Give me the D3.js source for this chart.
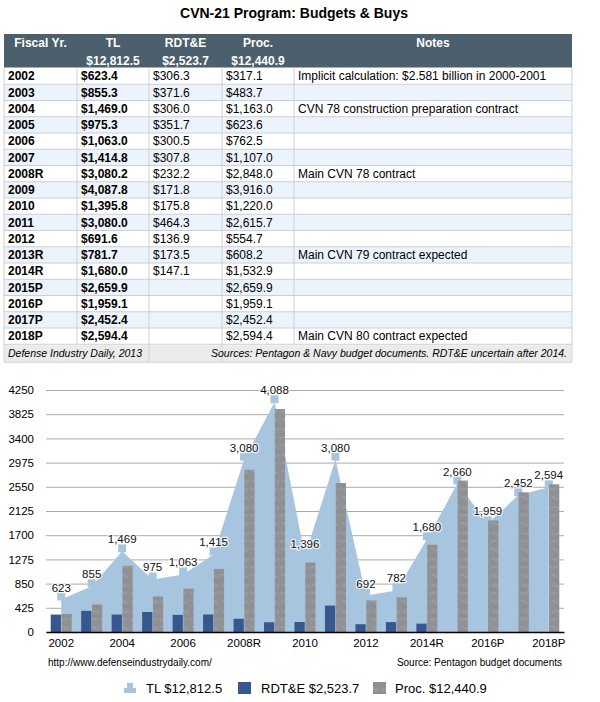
<!DOCTYPE html>
<html><head><meta charset="utf-8">
<script src="https://cdn.jsdelivr.net/npm/d3@7"></script>
<style>
body{margin:0;background:#fff;}
svg{display:block;font-family:"Liberation Sans",Arial,Helvetica,sans-serif;}
</style>
</head><body>
<svg id="c" width="600" height="702"></svg>
<script>
// ---------- data ----------
const years = ["2002","2003","2004","2005","2006","2007","2008R","2009","2010","2011","2012","2013R","2014R","2015P","2016P","2017P","2018P"];
const tl    = [623.4,855.3,1469.0,975.3,1063.0,1414.8,3080.2,4087.8,1395.8,3080.0,691.6,781.7,1680.0,2659.9,1959.1,2452.4,2594.4];
const rdte  = [306.3,371.6,306.0,351.7,300.5,307.8,232.2,171.8,175.8,464.3,136.9,173.5,147.1,null,null,null,null];
const proc  = [317.1,483.7,1163.0,623.6,762.5,1107.0,2848.0,3916.0,1220.0,2615.7,554.7,608.2,1532.9,2659.9,1959.1,2452.4,2594.4];
const notes = ["Implicit calculation: $2.581 billion in 2000-2001","","CVN 78 construction preparation contract","","","","Main CVN 78 contract","","","","","Main CVN 79 contract expected","","","","","Main CVN 80 contract expected"];
const headers = ["Fiscal Yr.","TL","RDT&E","Proc.","Notes"];
const totals  = ["","$12,812.5","$2,523.7","$12,440.9",""];
const yTicks  = [0,425,850,1275,1700,2125,2550,2975,3400,3825,4250];
const xTickLabels = ["2002","2004","2006","2008R","2010","2012","2014R","2016P","2018P"];
const seriesNames = ["TL $12,812.5","RDT&E $2,523.7","Proc. $12,440.9"];

// ---------- styles ----------
const C = {header:"#4b5f6d", alt:"#edf3fb", border:"#c9d0da", foot:"#ebebeb",
           area:"#a8c5df", rdte:"#37588f", proc:"#909195", grid:"#acacac"};

const svg = d3.select("#c");

// texture for Proc. bars
const defs = svg.append("defs");
const pat = defs.append("pattern").attr("id","stone").attr("patternUnits","userSpaceOnUse")
  .attr("width",10).attr("height",26);
pat.append("rect").attr("width",10).attr("height",26).attr("fill",C.proc);
pat.append("path").attr("d","M1,3 C3,1 5,6 8,4 M2,14 C4,11 6,16 9,13 M0,21 C3,23 5,19 7,22")
  .attr("stroke","#a2a3a7").attr("stroke-width",1.8).attr("fill","none").attr("opacity",0.55);
pat.append("path").attr("d","M3,8 C5,9 7,8 9,10 M1,18 C2,17 4,17 5,18")
  .attr("stroke","#838488").attr("stroke-width",1.2).attr("fill","none").attr("opacity",0.5);

// ---------- title ----------
svg.append("text").attr("x",294).attr("y",18).attr("text-anchor","middle")
  .attr("font-weight","bold").attr("font-size",14).text("CVN-21 Program: Budgets & Buys");

// ---------- table ----------
const colX = [4,77,149,222,294,572];
const headTop = 34, headBot = 68, rowH = 16.25;
const bodyBot = headBot + rowH*years.length;
const footBot = bodyBot + 18;
const T = svg.append("g");

T.append("rect").attr("x",colX[0]).attr("y",headTop).attr("width",colX[5]-colX[0]).attr("height",headBot-headTop).attr("fill",C.header);
headers.forEach((h,i)=>{
  const hx = (colX[i]+colX[i+1])/2;
  T.append("text").attr("x",hx).attr("y",headTop+12.5).attr("text-anchor","middle")
    .attr("fill","#fff").attr("font-weight","bold").attr("font-size",12).text(h);
  if (totals[i]) T.append("text").attr("x",hx).attr("y",headTop+30.5).attr("text-anchor","middle")
    .attr("fill","#fff").attr("font-weight","bold").attr("font-size",12).text(totals[i]);
});

const fmt = d3.format("$,.1f");
years.forEach((yr,r)=>{
  const rowTop = headBot + r*rowH;
  T.append("rect").attr("x",colX[0]).attr("y",rowTop).attr("width",colX[5]-colX[0]).attr("height",rowH)
    .attr("fill", r%2 ? C.alt : "#fff");
  const cells = [yr, fmt(tl[r]), rdte[r]==null?"":fmt(rdte[r]), fmt(proc[r]), notes[r]];
  cells.forEach((v,i)=>{
    T.append("text").attr("x",colX[i]+4).attr("y",rowTop+12.3).attr("font-size",12)
      .attr("font-weight", i<2 ? "bold":"normal").attr("fill","#000").text(v);
  });
});
for (let r=0; r<=years.length; r++){
  const yy = headBot + r*rowH;
  T.append("line").attr("x1",colX[0]).attr("x2",colX[5]).attr("y1",yy).attr("y2",yy)
    .attr("stroke", r===0 ? "#fff" : C.border).attr("stroke-width",1);
}
colX.forEach(xx=>{
  T.append("line").attr("x1",xx).attr("x2",xx).attr("y1",headBot).attr("y2",bodyBot)
    .attr("stroke",C.border).attr("stroke-width",1);
});
// footer
T.append("rect").attr("x",colX[0]).attr("y",bodyBot+1).attr("width",colX[5]-colX[0]).attr("height",footBot-bodyBot-1).attr("fill",C.foot);
[colX[0],colX[2],colX[3],colX[5]].forEach(xx=>{
  T.append("line").attr("x1",xx).attr("x2",xx).attr("y1",bodyBot).attr("y2",footBot)
    .attr("stroke","#d2d2d2").attr("stroke-width",1);
});
T.append("line").attr("x1",colX[0]).attr("x2",colX[5]).attr("y1",footBot).attr("y2",footBot).attr("stroke","#d2d2d2");
T.append("text").attr("x",colX[0]+4).attr("y",bodyBot+12.5).attr("font-size",10.5).attr("font-style","italic")
  .text("Defense Industry Daily, 2013");
T.append("text").attr("x",colX[5]-5).attr("y",bodyBot+12.5).attr("font-size",10.5).attr("font-style","italic")
  .attr("text-anchor","end").text("Sources: Pentagon & Navy budget documents. RDT&E uncertain after 2014.");

// ---------- chart ----------
const pLeft = 46, pRight = 564, pTop = 390, pBase = 632;
const x = d3.scaleBand().domain(years).range([pLeft,pRight]).paddingInner(0.31).paddingOuter(0.155);
const xs = d3.scaleBand().domain(["rdte","proc"]).range([0,x.bandwidth()]).paddingInner(0.05);
const y = d3.scaleLinear().domain([0,4250]).range([pBase,pTop]);
const cxOf = d => x(d) + x.bandwidth()/2;

const G = svg.append("g");
const ya = G.append("g").attr("transform",`translate(${pLeft},0)`)
  .call(d3.axisLeft(y).tickValues(yTicks).tickFormat(d3.format("d")).tickSize(-(pRight-pLeft)).tickPadding(12));
ya.select(".domain").remove();
ya.selectAll(".tick line").attr("stroke",C.grid).attr("stroke-width",1);
ya.selectAll(".tick text").attr("font-size",11.5).attr("fill","#000").attr("font-family","Liberation Sans, Arial, sans-serif");

const tlData = years.map((yr,i)=>({yr, v:tl[i]}));
G.append("path").datum(tlData)
  .attr("d", d3.area().x(d=>cxOf(d.yr)).y0(y(0)).y1(d=>y(d.v)+3))
  .attr("fill",C.area);
G.selectAll("rect.mk").data(tlData).enter().append("rect").attr("class","mk")
  .attr("x",d=>cxOf(d.yr)-4).attr("y",d=>y(d.v)-4).attr("width",8).attr("height",8).attr("fill",C.area);

G.selectAll("rect.rd").data(years.map((yr,i)=>({yr,v:rdte[i]})).filter(d=>d.v!=null)).enter()
  .append("rect").attr("class","rd")
  .attr("x",d=>x(d.yr)+xs("rdte")).attr("width",xs.bandwidth())
  .attr("y",d=>y(d.v)).attr("height",d=>y(0)-y(d.v)).attr("fill",C.rdte);
G.selectAll("rect.pr").data(years.map((yr,i)=>({yr,v:proc[i]}))).enter()
  .append("rect").attr("class","pr")
  .attr("x",d=>x(d.yr)+xs("proc")).attr("width",xs.bandwidth())
  .attr("y",d=>y(d.v)).attr("height",d=>y(0)-y(d.v)).attr("fill","url(#stone)");

const xa = G.append("g").attr("transform",`translate(0,${pBase})`)
  .call(d3.axisBottom(x).tickValues(xTickLabels).tickSize(0).tickSizeOuter(0).tickPadding(7));
xa.select(".domain").attr("stroke","#000").attr("stroke-width",1.6);
xa.selectAll(".tick text").attr("font-size",11.5).attr("fill","#000").attr("font-family","Liberation Sans, Arial, sans-serif");

const lf = d3.format(",.0f");
G.selectAll("text.vl").data(tlData).enter().append("text").attr("class","vl")
  .attr("x",d=>cxOf(d.yr)).attr("y",d=>y(d.v)-5).attr("text-anchor","middle")
  .attr("font-size",11.5).attr("fill","#111")
  .attr("stroke","#fff").attr("stroke-width",2.5).attr("stroke-opacity",0.75)
  .attr("paint-order","stroke").attr("stroke-linejoin","round")
  .text(d=>lf(d.v));

svg.append("text").attr("x",48).attr("y",665.5).attr("font-size",10).text("http://www.defenseindustrydaily.com/");
svg.append("text").attr("x",562).attr("y",665.5).attr("font-size",10).attr("text-anchor","end").text("Source: Pentagon budget documents");

const L = svg.append("g");
const ly = 688;
L.append("path").attr("d",`M124,${ly+5} L124,${ly} L127,${ly} L127,${ly-5} L133,${ly-5} L133,${ly} L136,${ly} L136,${ly+5} Z`).attr("fill",C.area);
L.append("text").attr("x",146).attr("y",ly+4.5).attr("font-size",13).text(seriesNames[0]);
L.append("rect").attr("x",238).attr("y",ly-6).attr("width",13).attr("height",12).attr("fill",C.rdte);
L.append("text").attr("x",261).attr("y",ly+4.5).attr("font-size",13).text(seriesNames[1]);
L.append("rect").attr("x",373).attr("y",ly-6).attr("width",13).attr("height",12).attr("fill","url(#stone)");
L.append("text").attr("x",395).attr("y",ly+4.5).attr("font-size",13).text(seriesNames[2]);
</script>
</body></html>
